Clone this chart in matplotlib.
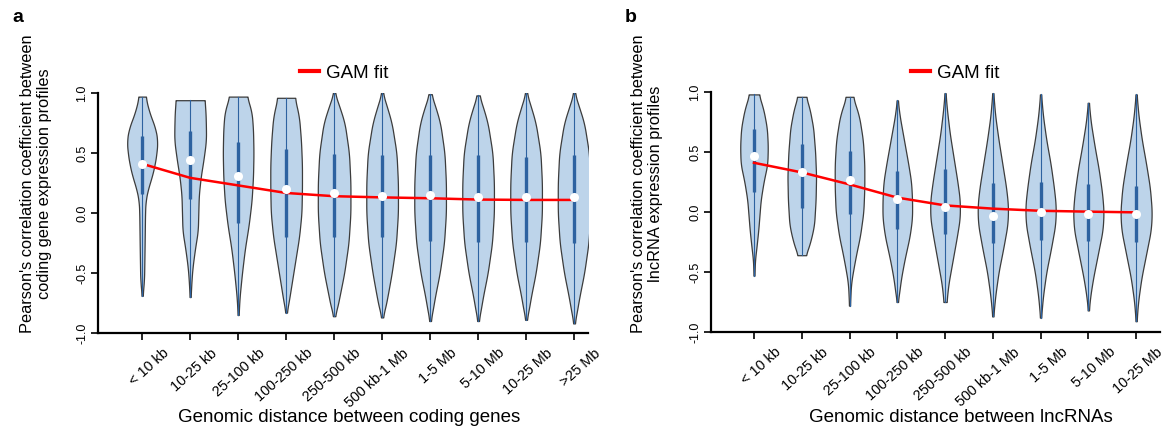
import numpy as np
import matplotlib
matplotlib.use("Agg")
import matplotlib.pyplot as plt
import matplotlib.transforms as mtransforms
from matplotlib.lines import Line2D

plt.rcParams["font.family"] = ["Liberation Sans", "DejaVu Sans"]

# ---- panel a data ----
a_labels = ["< 10 kb", "10-25 kb", "25-100 kb", "100-250 kb", "250-500 kb",
            "500 kb-1 Mb", "1-5 Mb", "5-10 Mb", "10-25 Mb", ">25 Mb"]
a_median = [0.41, 0.44, 0.31, 0.20, 0.17, 0.14, 0.15, 0.13, 0.13, 0.13]
a_q1 = [0.16, 0.12, -0.08, -0.20, -0.20, -0.20, -0.23, -0.24, -0.24, -0.25]
a_q3 = [0.64, 0.68, 0.59, 0.53, 0.49, 0.48, 0.48, 0.48, 0.47, 0.48]
a_gam = [0.41, 0.293, 0.23, 0.167, 0.14, 0.13, 0.123, 0.112, 0.109, 0.109]
a_prof_y = [
    [0.97, 0.85, 0.7, 0.6, 0.5, 0.4, 0.3, 0.2, 0.1, 0.0, -0.3, -0.55, -0.69],
    [0.94, 0.85, 0.7, 0.6, 0.45, 0.3, 0.15, 0.0, -0.15, -0.3, -0.45, -0.55, -0.70],
    [0.97, 0.85, 0.7, 0.5, 0.3, 0.1, -0.1, -0.3, -0.5, -0.7, -0.85],
    [0.96, 0.8, 0.6, 0.4, 0.2, 0.0, -0.2, -0.4, -0.6, -0.75, -0.83],
    [1.0, 0.9, 0.75, 0.5, 0.25, 0.0, -0.25, -0.5, -0.7, -0.8, -0.86],
    [1.0, 0.9, 0.75, 0.5, 0.25, 0.0, -0.25, -0.5, -0.7, -0.8, -0.87],
    [0.99, 0.9, 0.75, 0.5, 0.25, 0.0, -0.25, -0.5, -0.7, -0.82, -0.90],
    [0.98, 0.9, 0.75, 0.5, 0.25, 0.0, -0.25, -0.5, -0.7, -0.82, -0.90],
    [1.0, 0.9, 0.75, 0.5, 0.25, 0.0, -0.25, -0.5, -0.7, -0.82, -0.89],
    [1.0, 0.9, 0.75, 0.5, 0.25, 0.0, -0.25, -0.5, -0.7, -0.84, -0.92],
]
a_prof_w = [
    [0.07, 0.14, 0.28, 0.32, 0.30, 0.26, 0.20, 0.12, 0.07, 0.06, 0.05, 0.04, 0.01],
    [0.30, 0.32, 0.33, 0.33, 0.28, 0.22, 0.18, 0.17, 0.16, 0.10, 0.05, 0.03, 0.01],
    [0.18, 0.28, 0.31, 0.32, 0.31, 0.28, 0.22, 0.14, 0.08, 0.03, 0.01],
    [0.18, 0.27, 0.31, 0.33, 0.33, 0.32, 0.27, 0.19, 0.11, 0.05, 0.01],
    [0.01, 0.10, 0.22, 0.31, 0.34, 0.34, 0.30, 0.21, 0.11, 0.06, 0.01],
    [0.01, 0.09, 0.20, 0.30, 0.33, 0.33, 0.29, 0.20, 0.11, 0.06, 0.01],
    [0.02, 0.10, 0.21, 0.30, 0.33, 0.33, 0.29, 0.20, 0.10, 0.05, 0.01],
    [0.02, 0.09, 0.20, 0.30, 0.33, 0.33, 0.29, 0.20, 0.10, 0.05, 0.01],
    [0.01, 0.09, 0.20, 0.30, 0.33, 0.33, 0.29, 0.20, 0.10, 0.05, 0.01],
    [0.01, 0.09, 0.21, 0.31, 0.34, 0.34, 0.30, 0.21, 0.11, 0.05, 0.01],
]

# ---- panel b data ----
b_labels = ["< 10 kb", "10-25 kb", "25-100 kb", "100-250 kb", "250-500 kb",
            "500 kb-1 Mb", "1-5 Mb", "5-10 Mb", "10-25 Mb"]
b_median = [0.47, 0.33, 0.27, 0.11, 0.04, -0.03, 0.0, -0.02, -0.02]
b_q1 = [0.17, 0.03, -0.02, -0.14, -0.18, -0.26, -0.23, -0.24, -0.25]
b_q3 = [0.69, 0.57, 0.51, 0.34, 0.36, 0.24, 0.25, 0.23, 0.22]
b_gam = [0.41, 0.33, 0.23, 0.12, 0.055, 0.028, 0.01, 0.003, -0.003]
b_prof_y = [
    [0.98, 0.85, 0.7, 0.55, 0.4, 0.25, 0.1, 0.0, -0.15, -0.3, -0.4, -0.53],
    [0.96, 0.85, 0.7, 0.5, 0.3, 0.1, -0.1, -0.2, -0.3, -0.36],
    [0.96, 0.8, 0.6, 0.4, 0.2, 0.0, -0.2, -0.35, -0.5, -0.6, -0.78],
    [0.93, 0.8, 0.6, 0.4, 0.25, 0.1, -0.05, -0.2, -0.4, -0.55, -0.7, -0.75],
    [0.99, 0.85, 0.65, 0.45, 0.25, 0.1, -0.05, -0.2, -0.4, -0.6, -0.75],
    [0.99, 0.8, 0.6, 0.4, 0.2, 0.05, -0.1, -0.3, -0.5, -0.7, -0.87],
    [0.98, 0.8, 0.6, 0.4, 0.2, 0.05, -0.1, -0.3, -0.5, -0.7, -0.88],
    [0.91, 0.75, 0.55, 0.35, 0.15, 0.0, -0.15, -0.35, -0.55, -0.7, -0.82],
    [0.98, 0.8, 0.6, 0.4, 0.2, 0.0, -0.15, -0.35, -0.55, -0.75, -0.91],
]
b_prof_w = [
    [0.10, 0.20, 0.27, 0.29, 0.28, 0.20, 0.14, 0.12, 0.09, 0.05, 0.02, 0.01],
    [0.09, 0.17, 0.24, 0.28, 0.30, 0.29, 0.26, 0.21, 0.14, 0.08],
    [0.07, 0.20, 0.28, 0.31, 0.31, 0.29, 0.22, 0.14, 0.07, 0.03, 0.01],
    [0.01, 0.05, 0.14, 0.23, 0.29, 0.31, 0.31, 0.26, 0.15, 0.08, 0.03, 0.01],
    [0.01, 0.04, 0.10, 0.18, 0.26, 0.31, 0.31, 0.25, 0.16, 0.07, 0.03],
    [0.01, 0.05, 0.12, 0.20, 0.28, 0.32, 0.31, 0.22, 0.12, 0.05, 0.01],
    [0.01, 0.05, 0.12, 0.21, 0.28, 0.32, 0.31, 0.22, 0.12, 0.05, 0.01],
    [0.01, 0.05, 0.13, 0.22, 0.29, 0.32, 0.30, 0.20, 0.10, 0.04, 0.01],
    [0.01, 0.05, 0.12, 0.21, 0.29, 0.33, 0.31, 0.21, 0.11, 0.04, 0.01],
]

FILL = "#bdd4ea"
EDGE = "#3c3c3c"
BOX = "#2d62a0"


def violin_outline(ys, ws):
    ys = np.asarray(ys)[::-1]
    ws = np.asarray(ws)[::-1]
    grid = np.linspace(ys[0], ys[-1], 400)
    w = np.interp(grid, ys, ws)
    k = 15
    padded = np.pad(w, k, mode="edge")
    w = np.convolve(padded, np.ones(2 * k + 1) / (2 * k + 1), mode="same")[k:-k]
    return grid, w


def draw_panel(fig, ax, labels, medians, q1, q3, gam, prof_y, prof_w, xlim):
    for i in range(len(labels)):
        grid, w = violin_outline(prof_y[i], prof_w[i])
        ax.fill_betweenx(grid, i - w, i + w, facecolor=FILL, edgecolor=EDGE,
                         linewidth=0.9, zorder=2)
        ax.plot([i, i], [grid[0], grid[-1]], color=BOX, lw=0.8, zorder=3)
        ax.plot([i, i], [q1[i], q3[i]], color=BOX, lw=2.4,
                solid_capstyle="butt", zorder=3)
    ax.plot(range(len(labels)), gam, color="#ff0000", lw=1.8, zorder=4)
    ax.plot(range(len(labels)), medians, "o", color="white", ms=6.5,
            mec="none", zorder=5)
    ax.set_xlim(*xlim)
    ax.set_ylim(-1.0, 1.0)
    for s in ["top", "right"]:
        ax.spines[s].set_visible(False)
    for s in ["left", "bottom"]:
        ax.spines[s].set_linewidth(1.6)
    ax.tick_params(axis="both", direction="out", length=5, width=1.2, pad=2)
    ax.tick_params(axis="x", pad=3)
    ax.set_yticks([-1.0, -0.5, 0.0, 0.5, 1.0])
    ax.set_yticklabels(["-1.0", "-0.5", "0.0", "0.5", "1.0"], rotation=90,
                       va="center", fontsize=9)
    ax.set_xticks(range(len(labels)))
    ax.set_xticklabels(labels, rotation=42, ha="right", va="top",
                       rotation_mode="anchor", fontsize=10.4)
    # push the slanted labels right so they end past the tick, as in the source
    shift = mtransforms.ScaledTranslation(20 / 100, -2 / 100, fig.dpi_scale_trans)
    for lab in ax.get_xticklabels():
        lab.set_transform(lab.get_transform() + shift)


fig = plt.figure(figsize=(11.66, 4.32), dpi=100)
ax_a = fig.add_axes([98 / 1166, 1 - 333 / 432, 490 / 1166, 240 / 432])
ax_b = fig.add_axes([711 / 1166, 1 - 332 / 432, 449 / 1166, 240 / 432])

draw_panel(fig, ax_a, a_labels, a_median, a_q1, a_q3, a_gam, a_prof_y, a_prof_w, (-0.92, 9.29))
draw_panel(fig, ax_b, b_labels, b_median, b_q1, b_q3, b_gam, b_prof_y, b_prof_w, (-0.9, 8.5))

# y labels
fig.text(36 / 1166, 1 - 184 / 432,
         "Pearson's correlation coefficient between\ncoding gene expression profiles",
         rotation=90, ha="center", va="center", ma="center", fontsize=11.8,
         linespacing=1.1)
fig.text(647 / 1166, 1 - 184 / 432,
         "Pearson's correlation coefficient between\nlncRNA expression profiles",
         rotation=90, ha="center", va="center", ma="center", fontsize=11.8,
         linespacing=1.1)

# x labels
fig.text(349 / 1166, 1 - 418 / 432, "Genomic distance between coding genes",
         ha="center", va="center", fontsize=13.5)
fig.text(961 / 1166, 1 - 418 / 432, "Genomic distance between lncRNAs",
         ha="center", va="center", fontsize=13.5)

# panel letters
fig.text(12 / 1166, 1 - 17 / 432, "a", fontsize=14, fontweight="bold", va="center")
fig.text(625 / 1166, 1 - 18 / 432, "b", fontsize=14, fontweight="bold", va="center")

# legends
for x0 in (300, 911):
    fig.legend(handles=[Line2D([], [], color="#ff0000", lw=3)], labels=["GAM fit"],
               loc="center left", bbox_to_anchor=(x0 / 1166, 1 - 73 / 432),
               frameon=False, handlelength=1.0, handletextpad=0.4,
               borderpad=0, borderaxespad=0, fontsize=13.5)

fig.savefig("out.png", dpi=100)
